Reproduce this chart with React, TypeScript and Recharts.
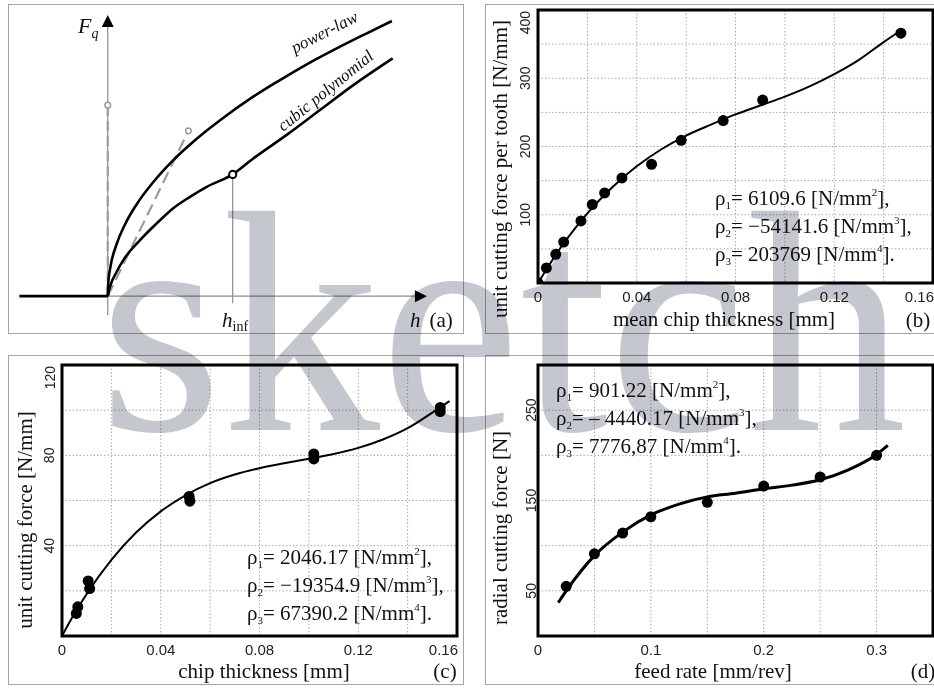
import React from 'react';
import {
  ComposedChart,
  Line,
  Scatter,
  XAxis,
  YAxis,
  CartesianGrid,
  ReferenceArea,
  ReferenceLine,
  ReferenceDot,
} from 'recharts';

const SERIF = '"Liberation Serif", "Times New Roman", serif';
const SANS = '"Liberation Sans", Arial, sans-serif';

// (a) schematic Fq(h), arbitrary units
const stepH = [-3.1, 0];
const stepF = [0, 0];
const powerH = [0, 0.02, 0.08, 0.3, 0.6, 1.0, 1.6, 2.3, 3.0, 4.0, 5.0, 6.0, 7.0, 8.0, 9.0, 9.97];
const powerF = [0, 0.52, 1.0, 1.89, 2.64, 3.37, 4.22, 5.03, 5.71, 6.55, 7.3, 7.96, 8.58, 9.14, 9.67, 10.17];
const cubicH = [0, 0.079, 0.314, 0.546, 1.132, 1.718, 2.3, 2.886, 3.472, 4.384, 5.107, 6.279, 7.447, 8.616, 9.998];
const cubicF = [0, 0.35, 0.9, 1.33, 2.07, 2.69, 3.25, 3.67, 4.04, 4.5, 5.09, 5.96, 6.88, 7.8, 8.79];
const inflection = { x: 4.384, y: 4.5 };
const tangentEnd = { x: 2.83, y: 6.11 };
const verticalEnd = { x: 0, y: 7.06 };

// (b) unit cutting force per tooth vs mean chip thickness
const bPointX = [0, 0.0034, 0.0072, 0.0104, 0.0174, 0.022, 0.027, 0.034, 0.046, 0.058, 0.075, 0.091, 0.147];
const bPointY = [0, 22, 42, 60, 91, 115, 132, 154, 174, 209, 238, 268, 366];
const bCurveX = [0, 0.005, 0.01, 0.015, 0.02, 0.03, 0.04, 0.05, 0.06, 0.07, 0.08, 0.09, 0.1, 0.11, 0.12, 0.13, 0.14, 0.147];
const bCurveY = [0, 29, 56, 80, 102, 140, 171, 196, 216, 232, 247, 260, 273, 288, 306, 327, 353, 370];
const bXTicks = [0, 0.02, 0.04, 0.06, 0.08, 0.1, 0.12, 0.14, 0.16];
const bXLabels = [0, 0.04, 0.08, 0.12, 0.16];
const bYTicks = [0, 50, 100, 150, 200, 250, 300, 350, 400];
const bYLabels = [100, 200, 300, 400];
const bRho = ['6109.6', '\u221254141.6', '203769'];

// (c) unit cutting force vs chip thickness
const cPointX = [0.0058, 0.0064, 0.0106, 0.0112, 0.0515, 0.0518, 0.102, 0.102, 0.1532, 0.1532];
const cPointY = [10, 12.9, 24.4, 21, 61.8, 59.7, 80.6, 78.4, 101.2, 99.4];
const cCurveX = [0, 0.005, 0.01, 0.02, 0.03, 0.04, 0.05, 0.06, 0.07, 0.08, 0.09, 0.1, 0.11, 0.12, 0.13, 0.14, 0.15, 0.157];
const cCurveY = [0, 9.8, 18.6, 33.7, 45.8, 55.2, 62.3, 67.7, 71.5, 74.3, 76.5, 78.5, 80.6, 83.3, 87, 92, 98.9, 104];
const cXTicks = [0, 0.02, 0.04, 0.06, 0.08, 0.1, 0.12, 0.14, 0.16];
const cXLabels = [0, 0.04, 0.08, 0.12, 0.16];
const cYTicks = [0, 20, 40, 60, 80, 100, 120];
const cYLabels = [40, 80, 120];
const cRho = ['2046.17', '\u221219354.9', '67390.2'];

// (d) radial cutting force vs feed rate
const dPointX = [0.025, 0.05, 0.075, 0.1, 0.15, 0.2, 0.25, 0.3];
const dPointY = [55, 91, 114, 132, 148, 166, 176, 200];
const dCurveX = [0.018, 0.025, 0.05, 0.075, 0.1, 0.125, 0.15, 0.175, 0.2, 0.225, 0.25, 0.275, 0.3, 0.31];
const dCurveY = [37, 50, 89, 115, 134, 146, 154, 158, 163, 167, 173, 184, 201, 211];
const dXTicks = [0, 0.05, 0.1, 0.15, 0.2, 0.25, 0.3, 0.35];
const dXLabels = [0, 0.1, 0.2, 0.3];
const dYTicks = [0, 50, 100, 150, 200, 250, 300];
const dYLabels = [50, 150, 250];
const dRho = ['901.22', '\u2013 4440.17', '7776,87'];

const zip = (xs: number[], ys: number[]) => xs.map((x, i) => ({ x, y: ys[i] }));

function XTick({ x, y, payload, labels, max }: any) {
  if (!labels.includes(payload.value)) return <g />;
  // the last label is pulled inside the box, as in the original
  const atEnd = payload.value === max;
  return (
    <text
      x={atEnd ? x + 1 : x}
      y={y + 19}
      textAnchor={atEnd ? 'end' : 'middle'}
      fontFamily={SANS}
      fontSize={15}
      fill="#222"
    >
      {String(payload.value)}
    </text>
  );
}

function YTick({ x, y, payload, labels, offset, max }: any) {
  if (!labels.includes(payload.value)) return <g />;
  const cx = x - offset;
  const atTop = payload.value === max;
  return (
    <text
      x={cx}
      y={atTop ? y + 1 : y}
      transform={`rotate(-90 ${cx} ${atTop ? y + 1 : y})`}
      textAnchor={atTop ? 'end' : 'middle'}
      dominantBaseline="central"
      fontFamily={SANS}
      fontSize={14}
      fill="#222"
    >
      {String(payload.value)}
    </text>
  );
}

interface FitProps {
  left: number;
  top: number;
  width: number;
  marginTop: number;
  marginRight: number;
  yAxisWidth: number;
  xAxisHeight: number;
  xDomain: [number, number];
  yDomain: [number, number];
  xTicks: number[];
  yTicks: number[];
  xLabels: number[];
  yLabels: number[];
  yLabelOffset: number;
  points: { x: number; y: number }[];
  curve: { x: number; y: number }[];
  curveWidth: number;
}

function FitChart(p: FitProps) {
  return (
    <div style={{ position: 'absolute', left: p.left, top: p.top }}>
      <ComposedChart
        width={p.width}
        height={330}
        margin={{ top: p.marginTop, right: p.marginRight, bottom: 0, left: 0 }}
      >
        <CartesianGrid stroke="#a8a8a8" strokeDasharray="1.5 2" />
        <XAxis
          type="number"
          dataKey="x"
          domain={p.xDomain}
          ticks={p.xTicks}
          interval={0}
          allowDataOverflow
          height={p.xAxisHeight}
          tickSize={0}
          tickMargin={0}
          axisLine={false}
          tickLine={false}
          tick={(t: any) => <XTick {...t} labels={p.xLabels} max={p.xDomain[1]} />}
        />
        <YAxis
          type="number"
          dataKey="y"
          domain={p.yDomain}
          ticks={p.yTicks}
          interval={0}
          allowDataOverflow
          width={p.yAxisWidth}
          tickSize={0}
          tickMargin={0}
          axisLine={false}
          tickLine={false}
          tick={(t: any) => (
            <YTick {...t} labels={p.yLabels} offset={p.yLabelOffset} max={p.yDomain[1]} />
          )}
        />
        <ReferenceArea
          x1={p.xDomain[0]}
          x2={p.xDomain[1]}
          y1={p.yDomain[0]}
          y2={p.yDomain[1]}
          fill="none"
          fillOpacity={0}
          stroke="#000"
          strokeWidth={3}
        />
        <Line
          data={p.curve}
          dataKey="y"
          type="monotone"
          stroke="#000"
          strokeWidth={p.curveWidth}
          dot={false}
          activeDot={false}
          isAnimationActive={false}
        />
        <Scatter
          data={p.points}
          dataKey="y"
          isAnimationActive={false}
          shape={(s: any) => <circle cx={s.cx} cy={s.cy} r={5.5} fill="#000" />}
        />
      </ComposedChart>
    </div>
  );
}

const ArrowRight = ({ cx, cy }: any) => (
  <path d={`M${cx - 6},${cy - 6} L${cx + 6},${cy} L${cx - 6},${cy + 6} Z`} fill="#000" />
);
const ArrowUp = ({ cx, cy }: any) => (
  <path d={`M${cx - 6},${cy + 6} L${cx},${cy - 6} L${cx + 6},${cy + 6} Z`} fill="#000" />
);

function SchematicChart() {
  return (
    <div style={{ position: 'absolute', left: 8, top: 4 }}>
      <ComposedChart width={456} height={330} margin={{ top: 0, right: 0, bottom: 0, left: 0 }}>
        <XAxis type="number" dataKey="x" domain={[-3.5, 12.5]} hide allowDataOverflow />
        <YAxis type="number" dataKey="y" domain={[-1.4, 10.8]} hide allowDataOverflow />
        <ReferenceLine segment={[{ x: 0, y: -0.7 }, { x: 0, y: 10 }]} stroke="#8c8c8c" strokeWidth={1.2} />
        <ReferenceLine segment={[{ x: 0, y: 0 }, { x: 10.8, y: 0 }]} stroke="#8c8c8c" strokeWidth={1.2} />
        <ReferenceLine
          segment={[{ x: inflection.x, y: -0.26 }, inflection]}
          stroke="#8c8c8c"
          strokeWidth={1.2}
        />
        <ReferenceLine
          segment={[{ x: 0, y: 0 }, verticalEnd]}
          stroke="#9c9c9c"
          strokeWidth={2.2}
          strokeDasharray="10 5"
        />
        <ReferenceLine
          segment={[{ x: 0, y: 0 }, tangentEnd]}
          stroke="#9c9c9c"
          strokeWidth={2.2}
          strokeDasharray="12 6"
        />
        <Line data={zip(stepH, stepF)} dataKey="y" type="linear" stroke="#000" strokeWidth={2.6} dot={false} activeDot={false} isAnimationActive={false} />
        <Line data={zip(powerH, powerF)} dataKey="y" type="monotone" stroke="#000" strokeWidth={2.6} dot={false} activeDot={false} isAnimationActive={false} />
        <Line data={zip(cubicH, cubicF)} dataKey="y" type="monotone" stroke="#000" strokeWidth={2.6} dot={false} activeDot={false} isAnimationActive={false} />
        <ReferenceDot x={10.99} y={0} shape={ArrowRight} />
        <ReferenceDot x={0} y={10.17} shape={ArrowUp} />
        <ReferenceDot x={verticalEnd.x} y={verticalEnd.y} r={2.8} fill="#fff" stroke="#9c9c9c" strokeWidth={1.5} />
        <ReferenceDot x={tangentEnd.x} y={tangentEnd.y} r={2.8} fill="#fff" stroke="#9c9c9c" strokeWidth={1.5} />
        <ReferenceDot x={inflection.x} y={inflection.y} r={3.6} fill="#fff" stroke="#000" strokeWidth={2} />
      </ComposedChart>
    </div>
  );
}

function Rho({ x, y, idx, value, power, end }: any) {
  return (
    <text x={x} y={y} fontFamily={SERIF} fontSize={21} fill="#111">
      ρ
      <tspan fontSize={11} dy={4}>{idx}</tspan>
      <tspan dy={-4}>{`= ${value} [N/mm`}</tspan>
      <tspan fontSize={11} dy={-9}>{power}</tspan>
      <tspan dy={9}>{`]${end}`}</tspan>
    </text>
  );
}

function RhoBlock({ x, y, values }: any) {
  return (
    <g>
      {values.map((v: string, i: number) => (
        <Rho key={i} x={x} y={y + i * 28} idx={i + 1} value={v} power={i + 2} end={i === 2 ? '.' : ','} />
      ))}
    </g>
  );
}

const serifText = { fontFamily: SERIF, fontSize: 21, fill: '#111' };

function Frame({ left, top, width, openRight }: any) {
  return (
    <div
      style={{
        position: 'absolute',
        left,
        top,
        width,
        height: 330,
        boxSizing: 'border-box',
        border: '1.5px solid #a4a4a4',
        borderRight: openRight ? 'none' : '1.5px solid #a4a4a4',
      }}
    />
  );
}

export default function App() {
  return (
    <div
      style={{
        position: 'absolute',
        left: 0,
        top: 0,
        width: 934,
        height: 691,
        background: '#fff',
        overflow: 'hidden',
      }}
    >
      <Frame left={8} top={4} width={456} />
      <Frame left={485} top={4} width={460} openRight />
      <Frame left={8} top={355} width={456} />
      <Frame left={485} top={355} width={460} openRight />

      <SchematicChart />
      <FitChart
        left={485}
        top={4}
        width={449}
        marginTop={6}
        marginRight={1}
        yAxisWidth={53}
        xAxisHeight={51}
        xDomain={[0, 0.16]}
        yDomain={[0, 400]}
        xTicks={bXTicks}
        yTicks={bYTicks}
        xLabels={bXLabels}
        yLabels={bYLabels}
        yLabelOffset={13}
        points={zip(bPointX, bPointY)}
        curve={zip(bCurveX, bCurveY)}
        curveWidth={2}
      />
      <FitChart
        left={8}
        top={355}
        width={456}
        marginTop={10}
        marginRight={7}
        yAxisWidth={54}
        xAxisHeight={49}
        xDomain={[0, 0.16]}
        yDomain={[0, 120]}
        xTicks={cXTicks}
        yTicks={cYTicks}
        xLabels={cXLabels}
        yLabels={cYLabels}
        yLabelOffset={12.5}
        points={zip(cPointX, cPointY)}
        curve={zip(cCurveX, cCurveY)}
        curveWidth={2}
      />
      <FitChart
        left={485}
        top={355}
        width={449}
        marginTop={10}
        marginRight={1}
        yAxisWidth={53}
        xAxisHeight={49}
        xDomain={[0, 0.35]}
        yDomain={[0, 300]}
        xTicks={dXTicks}
        yTicks={dYTicks}
        xLabels={dXLabels}
        yLabels={dYLabels}
        yLabelOffset={7}
        points={zip(dPointX, dPointY)}
        curve={zip(dCurveX, dCurveY)}
        curveWidth={3}
      />

      <svg
        width={934}
        height={691}
        style={{ position: 'absolute', left: 0, top: 0, pointerEvents: 'none' }}
      >
        {/* (a) labels */}
        <text x={78} y={33} fontFamily={SERIF} fontStyle="italic" fontSize={22} fill="#111">
          F<tspan fontSize={14} dy={5}>q</tspan>
        </text>
        <text
          x={327}
          y={37}
          transform="rotate(-27 327 37)"
          textAnchor="middle"
          fontFamily={SERIF}
          fontStyle="italic"
          fontSize={17}
          fill="#111"
        >
          power-law
        </text>
        <text
          x={329}
          y={95}
          transform="rotate(-39 329 95)"
          textAnchor="middle"
          fontFamily={SERIF}
          fontStyle="italic"
          fontSize={17}
          fill="#111"
        >
          cubic polynomial
        </text>
        <text x={222} y={327} fontFamily={SERIF} fontStyle="italic" fontSize={21} fill="#111">
          h<tspan fontStyle="normal" fontSize={14} dy={4}>inf</tspan>
        </text>
        <text x={410} y={327} fontFamily={SERIF} fontSize={21} fill="#111">
          <tspan fontStyle="italic">h</tspan>
          <tspan dx={9}>(a)</tspan>
        </text>

        {/* (b) labels */}
        <text x={500} y={169} transform="rotate(-90 500 169)" textAnchor="middle" dominantBaseline="central" {...serifText}>
          unit cutting force per tooth [N/mm]
        </text>
        <text x={724} y={326} textAnchor="middle" {...serifText}>mean chip thickness [mm]</text>
        <text x={918} y={327} textAnchor="middle" {...serifText}>(b)</text>
        <RhoBlock x={715} y={205} values={bRho} />

        {/* (c) labels */}
        <text x={25} y={520} transform="rotate(-90 25 520)" textAnchor="middle" dominantBaseline="central" {...serifText}>
          unit cutting force [N/mm]
        </text>
        <text x={264} y={678} textAnchor="middle" {...serifText}>chip thickness [mm]</text>
        <text x={445} y={678} textAnchor="middle" {...serifText}>(c)</text>
        <RhoBlock x={247} y={564} values={cRho} />

        {/* (d) labels */}
        <text x={500} y={528} transform="rotate(-90 500 528)" textAnchor="middle" dominantBaseline="central" {...serifText}>
          radial cutting force [N]
        </text>
        <text x={713} y={678} textAnchor="middle" {...serifText}>feed rate [mm/rev]</text>
        <text x={923} y={678} textAnchor="middle" {...serifText}>(d)</text>
        <RhoBlock x={556} y={397} values={dRho} />
      </svg>

      <svg
        width={934}
        height={691}
        style={{ position: 'absolute', left: 0, top: 0, pointerEvents: 'none', mixBlendMode: 'multiply' }}
      >
        <text x={99} y={430} fontFamily={SERIF} fontSize={316} fill="#c4c7ce">
          sketch
        </text>
      </svg>
    </div>
  );
}
